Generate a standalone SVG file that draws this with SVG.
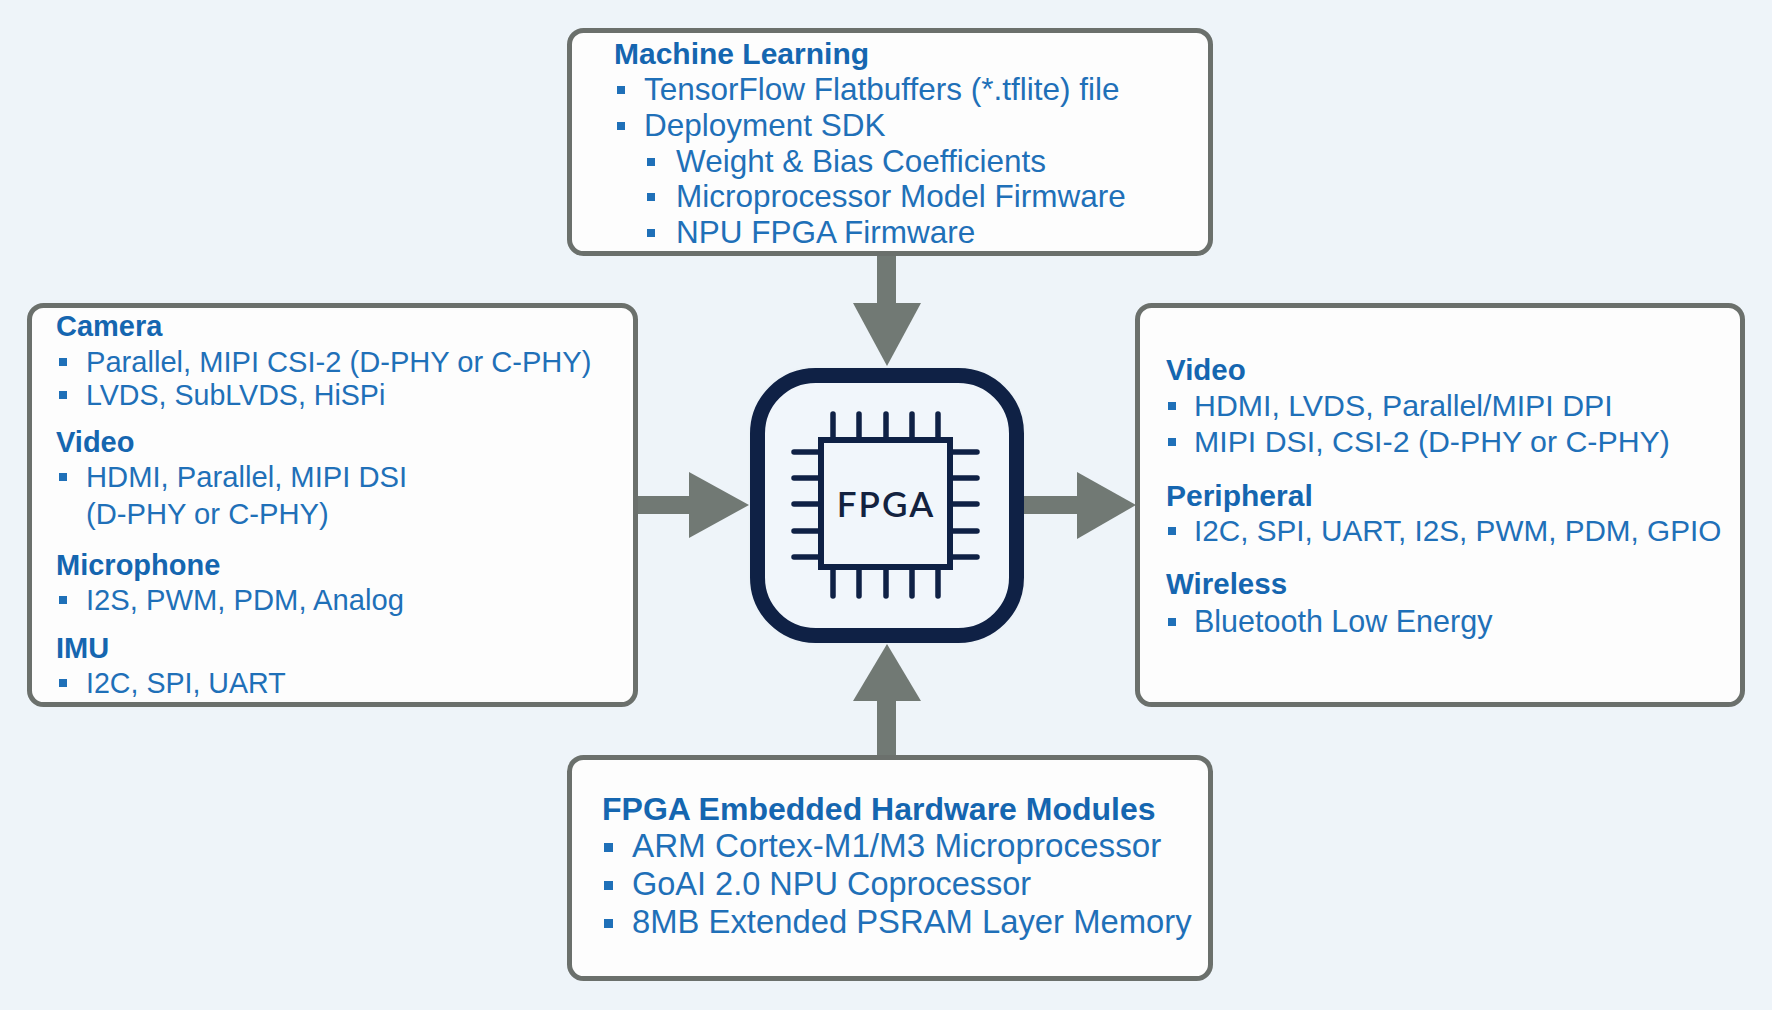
<svg xmlns="http://www.w3.org/2000/svg" width="1772" height="1010" viewBox="0 0 1772 1010">
<defs>
<style>
.box{fill:#fdfdfd;stroke:#6b706c;stroke-width:5}
.h{font-family:"Liberation Sans",Arial,sans-serif;font-weight:bold;fill:#1566b0}
.t{font-family:"Liberation Sans",Arial,sans-serif;fill:#1f70b8}
.b{fill:#1f70b8}
.arr{fill:#717974}
.pin{stroke:#0f2145;stroke-width:5.5;stroke-linecap:round;fill:none}
</style>
<filter id="glow" x="-20%" y="-20%" width="140%" height="140%">
<feGaussianBlur stdDeviation="5"/>
</filter>
</defs>
<rect width="1772" height="1010" fill="#eef4f9"/>

<g id="connectors">
<rect class="arr" x="877" y="250" width="19" height="56"/>
<polygon class="arr" points="853,303 921,303 887,366"/>
<rect class="arr" x="877" y="698" width="19" height="60"/>
<polygon class="arr" points="853,701 921,701 887,644"/>
<rect class="arr" x="634" y="496" width="58" height="18"/>
<polygon class="arr" points="689,472 689,538 749,505"/>
<rect class="arr" x="1020" y="496" width="60" height="18"/>
<polygon class="arr" points="1077,472 1077,539 1136,505"/>
</g>

<g id="ml">
<rect class="box" x="569.5" y="30.5" width="641" height="223" rx="14"/>
<text class="h" x="614" y="64" font-size="30">Machine Learning</text>
<rect class="b" x="617" y="86" width="8" height="8"/>
<text class="t" x="644" y="100" font-size="31.5">TensorFlow Flatbuffers (*.tflite) file</text>
<rect class="b" x="617" y="122" width="8" height="8"/>
<text class="t" x="644" y="136" font-size="31.5">Deployment SDK</text>
<rect class="b" x="647" y="158" width="8" height="8"/>
<text class="t" x="676" y="172" font-size="31.5">Weight &amp; Bias Coefficients</text>
<rect class="b" x="647" y="193" width="8" height="8"/>
<text class="t" x="676" y="207" font-size="31.5">Microprocessor Model Firmware</text>
<rect class="b" x="647" y="229" width="8" height="8"/>
<text class="t" x="676" y="243" font-size="31.5">NPU FPGA Firmware</text>
</g>

<g id="inputs">
<rect class="box" x="29.5" y="305.5" width="606" height="399" rx="14"/>
<text class="h" x="56" y="336" font-size="29">Camera</text>
<rect class="b" x="59" y="358" width="8" height="8"/>
<text class="t" x="86" y="372" font-size="29.1">Parallel, MIPI CSI-2 (D-PHY or C-PHY)</text>
<rect class="b" x="59" y="391" width="8" height="8"/>
<text class="t" x="86" y="405" font-size="28.6">LVDS, SubLVDS, HiSPi</text>
<text class="h" x="56" y="452" font-size="29">Video</text>
<rect class="b" x="59" y="473" width="8" height="8"/>
<text class="t" x="86" y="487" font-size="29.2">HDMI, Parallel, MIPI DSI</text>
<text class="t" x="86" y="524" font-size="29.2">(D-PHY or C-PHY)</text>
<text class="h" x="56" y="575" font-size="29">Microphone</text>
<rect class="b" x="59" y="596" width="8" height="8"/>
<text class="t" x="86" y="610" font-size="29.2">I2S, PWM, PDM, Analog</text>
<text class="h" x="56" y="658" font-size="29">IMU</text>
<rect class="b" x="59" y="679" width="8" height="8"/>
<text class="t" x="86" y="693" font-size="28.6">I2C, SPI, UART</text>
</g>

<g id="outputs">
<rect class="box" x="1137.5" y="305.5" width="605" height="399" rx="14"/>
<text class="h" x="1166" y="380" font-size="29.5">Video</text>
<rect class="b" x="1168" y="402" width="8" height="8"/>
<text class="t" x="1194" y="416" font-size="30.3">HDMI, LVDS, Parallel/MIPI DPI</text>
<rect class="b" x="1168" y="438" width="8" height="8"/>
<text class="t" x="1194" y="452" font-size="30.3">MIPI DSI, CSI-2 (D-PHY or C-PHY)</text>
<text class="h" x="1166" y="506" font-size="30">Peripheral</text>
<rect class="b" x="1168" y="527" width="8" height="8"/>
<text class="t" x="1194" y="541" font-size="29.7">I2C, SPI, UART, I2S, PWM, PDM, GPIO</text>
<text class="h" x="1166" y="594" font-size="29.5">Wireless</text>
<rect class="b" x="1168" y="618" width="8" height="8"/>
<text class="t" x="1194" y="632" font-size="30.5">Bluetooth Low Energy</text>
</g>

<g id="hw">
<rect class="box" x="569.5" y="757.5" width="641" height="221" rx="14"/>
<text class="h" x="602" y="820" font-size="32">FPGA Embedded Hardware Modules</text>
<rect class="b" x="604" y="843" width="9" height="9"/>
<text class="t" x="632" y="857" font-size="33.2">ARM Cortex-M1/M3 Microprocessor</text>
<rect class="b" x="604" y="881" width="9" height="9"/>
<text class="t" x="632" y="895" font-size="32.5">GoAI 2.0 NPU Coprocessor</text>
<rect class="b" x="604" y="919" width="9" height="9"/>
<text class="t" x="632" y="933" font-size="32.8">8MB Extended PSRAM Layer Memory</text>
</g>

<g id="fpga">
<rect x="757.5" y="375.5" width="259" height="260" rx="58" fill="#6a7a8c" opacity="0.45" filter="url(#glow)"/>
<rect x="757.5" y="375.5" width="259" height="260" rx="58" fill="#f1f6fb" stroke="#0f2145" stroke-width="15"/>
<rect x="821" y="440" width="129" height="127" fill="none" stroke="#0f2145" stroke-width="6"/>
<path class="pin" d="M833,414V437M859,414V437M886,414V437M912,414V437M938,414V437M833,570V596M859,570V596M886,570V596M912,570V596M938,570V596M794,452H818M794,478H818M794,504H818M794,531H818M794,557H818M953,452H977M953,478H977M953,504H977M953,531H977M953,557H977"/>
<text x="886" y="517" font-family="Lato,'Open Sans',sans-serif" font-size="35" font-weight="600" letter-spacing="2" text-anchor="middle" fill="#13223f">FPGA</text>
</g>
</svg>
